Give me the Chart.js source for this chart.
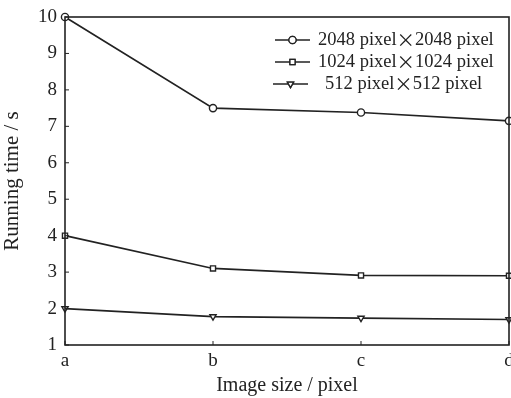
<!DOCTYPE html>
<html><head><meta charset="utf-8">
<script src="https://cdn.jsdelivr.net/npm/chart.js@4/dist/chart.umd.min.js"></script>
<style>html,body{margin:0;padding:0;background:#fff}#w{width:511px;height:398px}</style>
</head><body><div id="w"><canvas id="c"></canvas></div>
<script>
const categories = ['a','b','c','d'];
const s2048 = [10.0, 7.5, 7.38, 7.15];
const s1024 = [4.0, 3.1, 2.91, 2.9];
const s512 = [2.0, 1.78, 1.74, 1.7];
const seriesNames = ['2048 pixel\u00D72048 pixel','1024 pixel\u00D71024 pixel','512 pixel\u00D7512 pixel'];
const yTicks = [1,2,3,4,5,6,7,8,9,10];
const xTitle = 'Image size / pixel';
const yTitle = 'Running time / s';

const ink = '#222';
const serif = '"Liberation Serif","DejaVu Serif",serif';
const cjk = '"Noto Sans CJK SC","Liberation Serif",serif';

const framePlugin = {
  id: 'frame',
  afterDraw(chart) {
    const ctx = chart.ctx, a = chart.chartArea;
    const xs = chart.scales.x, ys = chart.scales.y;
    ctx.save();
    ctx.strokeStyle = ink; ctx.lineWidth = 1.6;
    ctx.strokeRect(a.left, a.top, a.right - a.left, a.bottom - a.top);
    ctx.lineWidth = 1;
    yTicks.forEach(v => {
      const y = ys.getPixelForValue(v);
      ctx.beginPath(); ctx.moveTo(a.left, y); ctx.lineTo(a.left + 4, y); ctx.stroke();
    });
    categories.forEach((c, i) => {
      const x = xs.getPixelForValue(i);
      ctx.beginPath(); ctx.moveTo(x, a.bottom); ctx.lineTo(x, a.bottom - 4); ctx.stroke();
    });
    // legend
    const ds = chart.data.datasets;
    const lx0 = [275, 275, 273], lx1 = [310, 310, 308], ly = [40, 62, 84];
    const tx = [318, 318, 325];
    ctx.textBaseline = 'middle'; ctx.textAlign = 'left';
    ds.forEach((d, i) => {
      ctx.strokeStyle = ink; ctx.lineWidth = 1.3;
      ctx.beginPath(); ctx.moveTo(lx0[i], ly[i]); ctx.lineTo(lx1[i], ly[i]); ctx.stroke();
      Chart.helpers.drawPoint(ctx, {pointStyle: d.pointStyle, radius: d.pointRadius, rotation: d.pointRotation || 0, borderWidth: 1.3}, (lx0[i] + lx1[i]) / 2, ly[i]);
      ctx.fillStyle = '#fff';
      ctx.fill();
      ctx.stroke();
      ctx.fillStyle = ink;
      const parts = seriesNames[i].split('\u00D7');
      let x = tx[i];
      ctx.font = '18.5px ' + serif;
      ctx.fillText(parts[0], x, ly[i]); x += ctx.measureText(parts[0]).width;
      ctx.font = '18.5px ' + cjk;
      ctx.fillText('\u00D7', x, ly[i]); x += ctx.measureText('\u00D7').width;
      ctx.font = '18.5px ' + serif;
      ctx.fillText(parts[1], x, ly[i]);
    });
    ctx.restore();
  }
};

function ds(label, data, style, rot) {
  return {label, data, borderColor: ink, borderWidth: 1.7, pointStyle: style,
    pointRotation: rot || 0, pointRadius: 3.6, pointBorderWidth: 1.4,
    pointBackgroundColor: '#fff', pointBorderColor: ink, tension: 0, clip: false};
}

new Chart(document.getElementById('c'), {
  type: 'line',
  data: {labels: categories, datasets: [
    ds(seriesNames[0], s2048, 'circle'),
    ds(seriesNames[1], s1024, 'rect'),
    ds(seriesNames[2], s512, 'triangle', 180)
  ]},
  options: {
    responsive: true, maintainAspectRatio: false, animation: false,
    layout: {autoPadding: false, padding: {left: 0, right: 2, top: 17, bottom: 0}},
    plugins: {legend: {display: false}, tooltip: {enabled: false}},
    scales: {
      x: {
        offset: false,
        grid: {display: false, drawTicks: false},
        border: {display: false},
        ticks: {color: ink, font: {family: serif, size: 19}, padding: 5},
        title: {display: true, text: xTitle, color: ink, font: {family: serif, size: 20}, padding: {top: 0, bottom: 0}},
        afterFit(s) { s.height = 53; s.paddingRight = 0; s.paddingLeft = 0; }
      },
      y: {
        min: 1, max: 10,
        afterBuildTicks(s) { s.ticks = yTicks.map(v => ({value: v})); },
        grid: {display: false, drawTicks: false},
        border: {display: false},
        ticks: {color: ink, font: {family: serif, size: 19}, padding: 8},
        title: {display: true, text: yTitle, color: ink, font: {family: serif, size: 21}, padding: {top: 0, bottom: 2}},
        afterFit(s) { s.width = 65; s.paddingTop = 0; s.paddingBottom = 0; }
      }
    }
  },
  plugins: [framePlugin]
});
</script></body></html>
